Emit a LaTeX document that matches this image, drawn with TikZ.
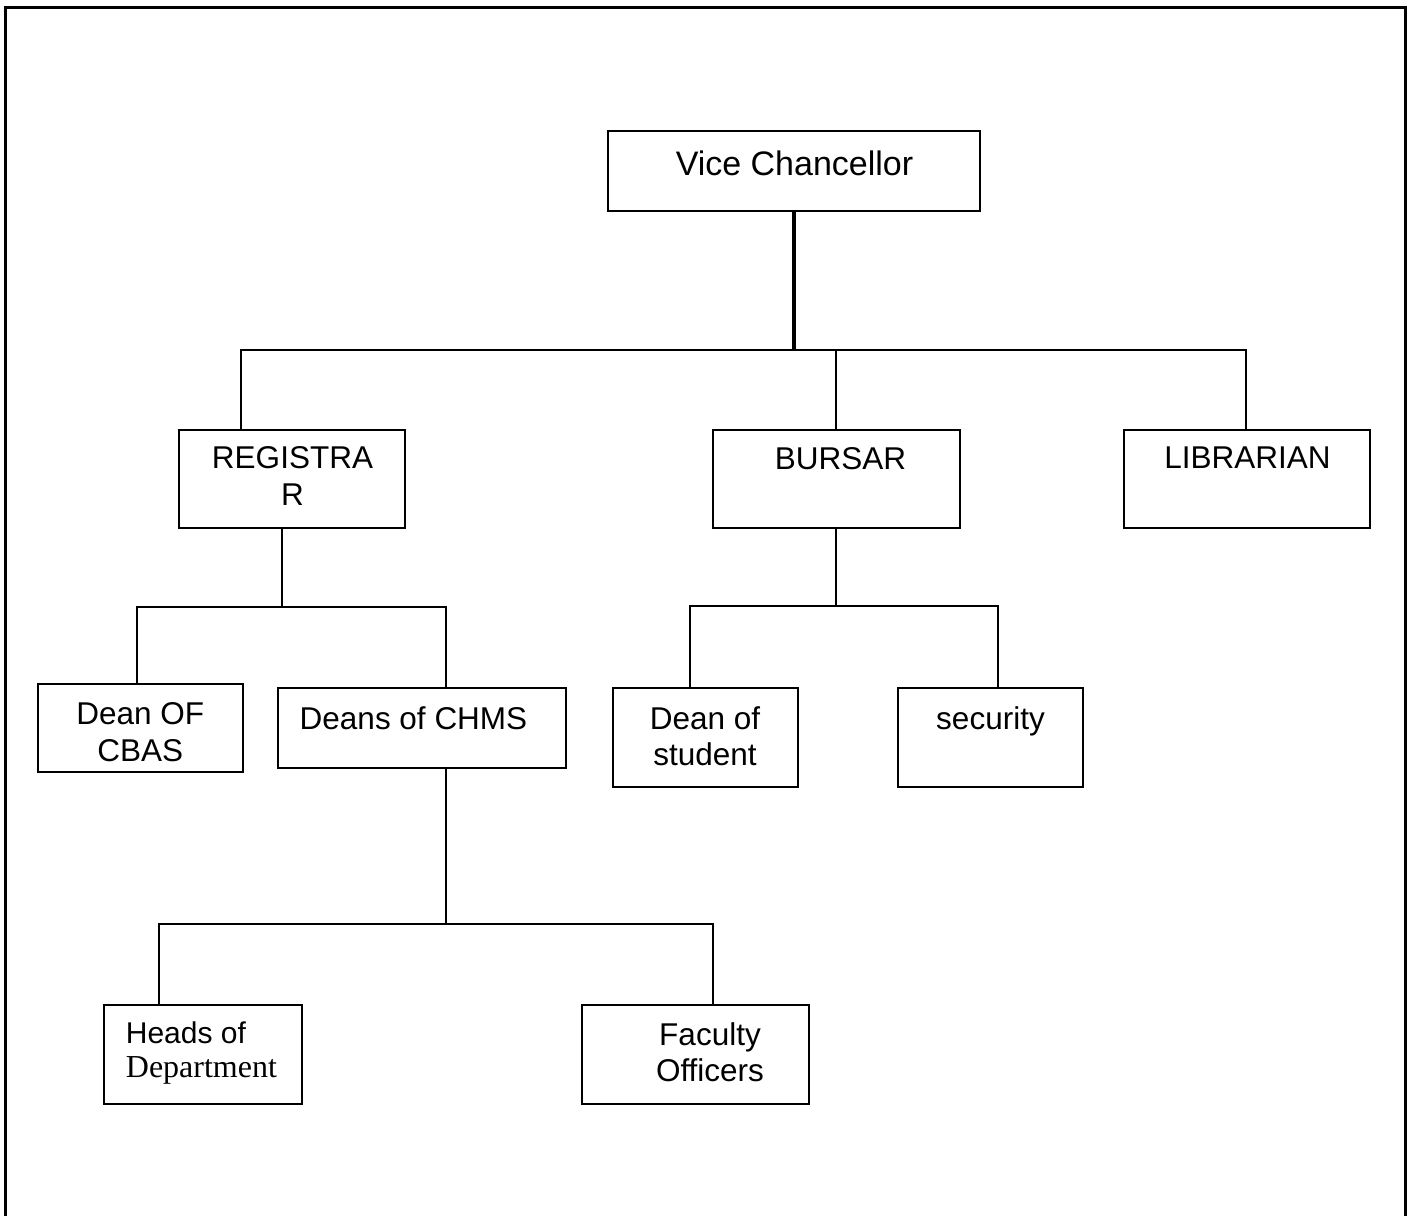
\documentclass[tikz,border=0pt]{standalone}
\usepackage{fontspec}
\setmainfont{Liberation Sans}
\newfontfamily\dptfont{Liberation Serif}
\begin{document}
\begin{tikzpicture}[x=1pt,y=-1pt,
  box/.style={draw, line width=1.6pt, inner sep=0pt, outer sep=0pt, anchor=north west},
  lbl/.style={inner sep=0pt, anchor=north, align=center, font=\fontsize{31.5}{36.8}\selectfont},
  link/.style={line width=1.6pt},
  thicklink/.style={line width=4pt},
  frame/.style={line width=3pt}
]
\useasboundingbox (0,0) rectangle (1414,1216);
\draw[frame] (5.5,1216) -- (5.5,7) -- (1405.5,7) -- (1405.5,1216);

% boxes
\node[box, minimum width=372pt, minimum height=80pt] (vc)   at (608,131) {};
\node[box, minimum width=226pt, minimum height=98pt] (reg)  at (179,430) {};
\node[box, minimum width=247pt, minimum height=98pt] (bur)  at (713,430) {};
\node[box, minimum width=246pt, minimum height=98pt] (lib)  at (1124,430) {};
\node[box, minimum width=205pt, minimum height=88pt] (cbas) at (38,684) {};
\node[box, minimum width=288pt, minimum height=80pt] (chms) at (278,688) {};
\node[box, minimum width=185pt, minimum height=99pt] (dst)  at (613,688) {};
\node[box, minimum width=185pt, minimum height=99pt] (sec)  at (898,688) {};
\node[box, minimum width=198pt, minimum height=99pt] (hod)  at (104,1005) {};
\node[box, minimum width=227pt, minimum height=99pt] (fo)   at (582,1005) {};

% labels
\node[lbl, font=\fontsize{34}{39}\selectfont] (vct) at (794.5,151) {Vice Chancellor};
\node[lbl] (regt)  at (292.5,446) {REGISTRA\\R};
\node[lbl] (burt)  at (840.5,447) {BURSAR};
\node[lbl] (libt)  at (1247.5,447) {LIBRARIAN};
\node[lbl] (cbast) at (140.3,702) {Dean OF\\CBAS};
\node[lbl] (chmst) at (413.5,706) {Deans of CHMS};
\node[lbl] (dstt)  at (705,706) {Dean of\\student};
\node[lbl] (sect)  at (990.5,706) {security};
\node[lbl, anchor=north west, align=left, font=\fontsize{30}{34}\selectfont] (hodt) at (125.7,1021.7) {Heads of\\{\dptfont\fontsize{32}{34}\selectfont Department}};
\node[lbl] (fot)   at (710,1022) {Faculty\\Officers};

% bus coordinates
\coordinate (b1) at (241,350);
\coordinate (b2) at (1246,350);
\coordinate (b3) at (836,350);
\coordinate (r0) at (282,607);
\coordinate (r1) at (137,607);
\coordinate (r2) at (446,607);
\coordinate (c0) at (446,924);
\coordinate (c1) at (159,924);
\coordinate (c2) at (713,924);
\coordinate (u0) at (836,606);
\coordinate (u1) at (690,606);
\coordinate (u2) at (998,606);

% top level
\draw[thicklink] (vc.south) -- (vc.south |- b1);
\draw[link] (b1 |- reg.north) -- (b1) -- (b2) -- (b2 |- lib.north);
\draw[link] (b3) -- (b3 |- bur.north);

% registrar subtree
\draw[link] (r0 |- reg.south) -- (r0);
\draw[link] (r1 |- cbas.north) -- (r1) -- (r2) -- (r2 |- chms.north);

% chms subtree
\draw[link] (c0 |- chms.south) -- (c0);
\draw[link] (c1 |- hod.north) -- (c1) -- (c2) -- (c2 |- fo.north);

% bursar subtree
\draw[link] (u0 |- bur.south) -- (u0);
\draw[link] (u1 |- dst.north) -- (u1) -- (u2) -- (u2 |- sec.north);
\end{tikzpicture}
\end{document}
